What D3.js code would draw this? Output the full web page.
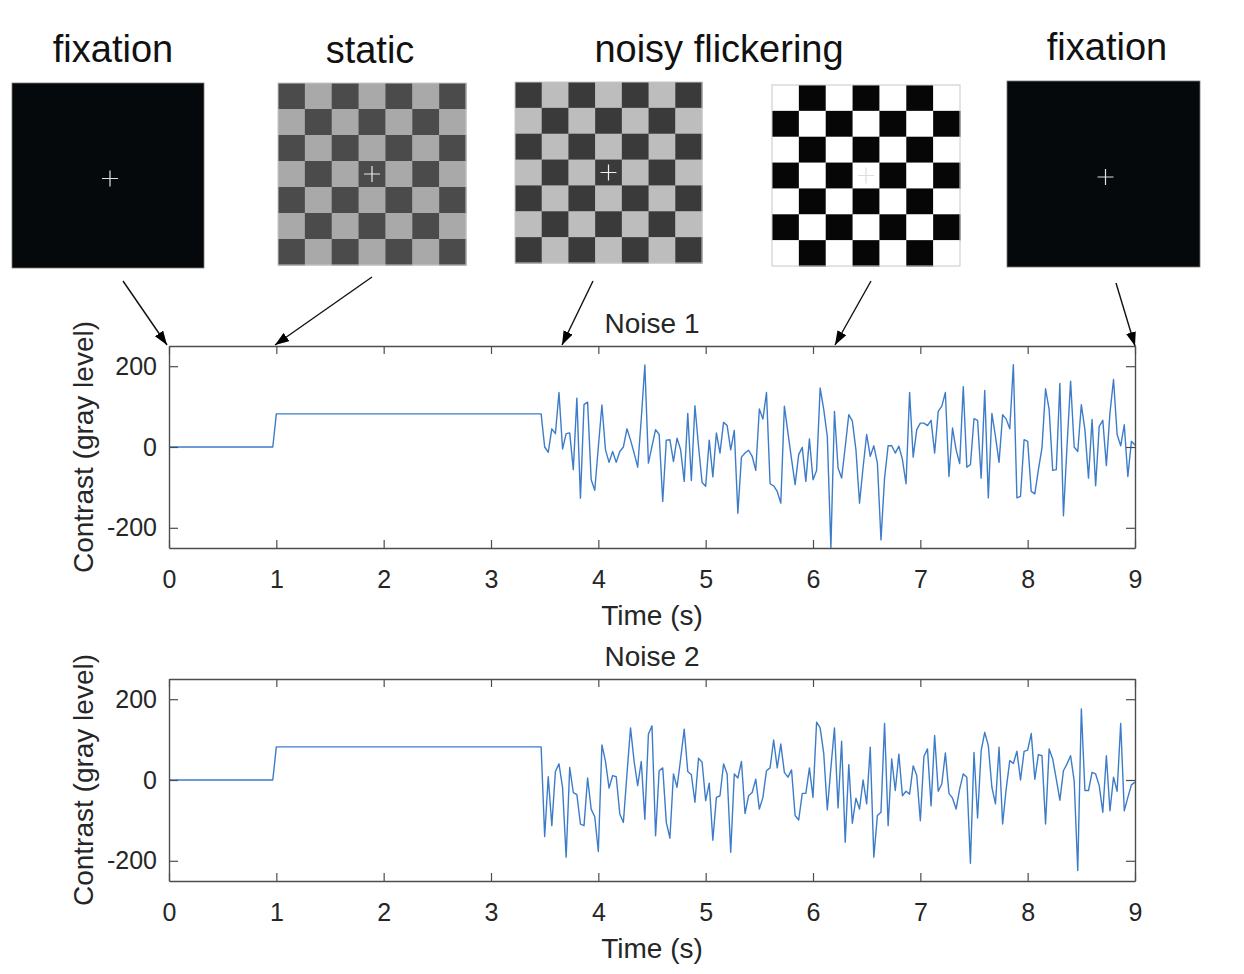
<!DOCTYPE html>
<html>
<head>
<meta charset="utf-8">
<script src="https://cdn.jsdelivr.net/npm/d3@7"></script>
<style>
  body { margin: 0; background: #fff; }
  svg { display: block; font-family: "Liberation Sans", Arial, sans-serif; }
</style>
</head>
<body>
<div id="chart"></div>
<script>
// ---- data ----
const sampleRate = 30;                  // frames per second
const noiseStart = 3.5;                 // s
const stepTimes  = [0, 0.967, 1, 3.467];
const stepLevels = [0, 0, 82, 82];      // fixation -> static level

const noise1 = [
  0, -13, 45, 33, 135, -5, 33, 35, -56, 121,
  -127, 105, 111, -81, -107, 0, 104, -7, -38, -11,
  -38, -11, 0, 45, 17, -15, -50, 70, 203, -40,
  2, 43, 31, -135, 17, 18, -36, 22, -7, -85,
  83, -83, 102, 2, -88, -97, 17, -74, 35, -15,
  61, 53, -7, 41, -164, -25, -15, -8, -23, -58,
  94, 69, 135, -91, -96, -110, -139, 101, 35, -30,
  -93, -19, -1, -85, 20, -81, -58, 146, 93, 26,
  -250, 88, -52, -77, 0, 80, 64, -7, -139, -50,
  31, -23, 3, -40, -230, -77, 3, 3, -15, 2,
  -31, -91, 135, -25, 43, 59, 59, 53, 66, -15,
  88, 101, 135, -73, 47, -7, -41, 149, -50, -44,
  70, 66, -77, 140, -126, 83, 26, -38, 80, 69,
  45, 204, -126, -122, 18, 14, -110, -116, -56, -2,
  144, 93, -58, -56, 157, -170, 2, 163, 0, -11,
  105, 43, -77, 68, -96, 51, 66, -46, 84, 167,
  31, 3, 55, -73, 14, 5
];

const noise2 = [
  -140, 8, -113, 21, 40, -18, -191, 31, -31, -36,
  -109, -113, 5, -72, -91, -177, 87, 46, -20, 11,
  8, -84, -105, 15, 129, 46, -14, 46, -97, 114,
  134, -138, 23, 30, -105, -144, 15, -18, 52, 126,
  21, 13, -55, 54, 44, -51, -8, -149, -43, -39,
  40, 15, -179, 15, 5, 46, -83, -39, -31, 2,
  -72, -43, 23, 30, 99, 30, 89, 19, 7, 25,
  -88, -99, -33, -33, 30, -43, 143, 129, 66, -74,
  30, 129, -69, 96, -154, 38, -107, -45, -72, 0,
  -59, 81, -191, -88, -80, 140, -113, 52, -26, 64,
  -39, -28, -35, 35, 11, -101, 58, 77, -64, 110,
  -28, -10, 67, -33, -45, -72, -22, 15, 7, -206,
  68, -94, 73, 118, 85, -18, -59, 81, -109, -22,
  48, 41, 71, 0, 71, 74, 115, 2, 63, 60,
  -109, 77, 52, 2, -50, 23, 40, 60, -2, -224,
  176, -26, -26, 19, 15, -14, -80, 60, -76, 7,
  -28, 140, -76, -43, -12, -5
];

const xTicks = [0, 1, 2, 3, 4, 5, 6, 7, 8, 9];
const yTicks = [-200, 0, 200];
const plotTitles = ["Noise 1", "Noise 2"];
const stimulusTitles = ["fixation", "static", "noisy flickering", "fixation"];

// ---- layout ----
const width = 1244, height = 974;
const plotLeft = 169, plotRight = 1135, plotH = 202;
const plotTops = [346, 679];

const svg = d3.select("#chart").append("svg")
  .attr("width", width).attr("height", height);

svg.append("defs").append("marker")
  .attr("id", "head")
  .attr("markerUnits", "userSpaceOnUse")
  .attr("viewBox", "0 0 14 10")
  .attr("refX", 14).attr("refY", 5)
  .attr("markerWidth", 14).attr("markerHeight", 10)
  .attr("orient", "auto")
  .append("path").attr("d", "M0,0L14,5L0,10Z").attr("fill", "#000");

// ---- stimulus pictures ----
const pictures = [
  { x: 12,   y: 83, w: 192, h: 185, type: "blank" },
  { x: 278,  y: 83, w: 188, h: 182, type: "check", dark: "#4b4b4b", light: "#a9a9a9", cross: "#e8e8e8", darkFirst: true },
  { x: 515,  y: 82, w: 187, h: 181, type: "check", dark: "#3a3a3a", light: "#bdbdbd", cross: "#f0f0f0", darkFirst: true },
  { x: 772,  y: 85, w: 188, h: 181, type: "check", dark: "#060606", light: "#ffffff", cross: "#dddddd", darkFirst: false },
  { x: 1007, y: 81, w: 193, h: 186, type: "blank" }
];

const cells = d3.range(7);
pictures.forEach(p => {
  const g = svg.append("g").attr("transform", `translate(${p.x},${p.y})`);
  if (p.type === "blank") {
    g.append("rect").attr("width", p.w).attr("height", p.h)
      .attr("fill", "#05090b").attr("stroke", "#777").attr("stroke-width", 0.8);
  } else {
    const cx = d3.scaleBand().domain(cells).range([0, p.w]);
    const cy = d3.scaleBand().domain(cells).range([0, p.h]);
    const grid = cells.flatMap(r => cells.map(c => ({ r, c })));
    g.selectAll("rect.cell").data(grid).join("rect")
      .attr("class", "cell")
      .attr("x", d => cx(d.c)).attr("y", d => cy(d.r))
      .attr("width", cx.bandwidth() + 0.5).attr("height", cy.bandwidth() + 0.5)
      .attr("fill", d => ((d.r + d.c) % 2 === 0) === p.darkFirst ? p.dark : p.light);
    g.append("rect").attr("width", p.w).attr("height", p.h)
      .attr("fill", "none").attr("stroke", "#c8c8c8").attr("stroke-width", 1);
  }
  const c = p.cross || "#e0e0e0";
  const mx = p.w / 2 + (p.type === "blank" ? 2 : 0), my = p.h / 2 + (p.type === "blank" ? 3 : 0);
  g.append("path")
    .attr("d", `M${mx - 8},${my}H${mx + 8}M${mx},${my - 8}V${my + 8}`)
    .attr("stroke", c).attr("stroke-width", 1.2);
});

const titlePos = [{ x: 113, y: 62 }, { x: 370, y: 63 }, { x: 719, y: 62 }, { x: 1107, y: 60 }];
svg.selectAll("text.stim").data(stimulusTitles).join("text")
  .attr("class", "stim")
  .attr("x", (d, i) => titlePos[i].x).attr("y", (d, i) => titlePos[i].y)
  .attr("text-anchor", "middle")
  .attr("font-size", 38).attr("fill", "#111")
  .text(d => d);

// arrows from pictures to the timeline
const arrows = [
  [123, 281, 167, 345],
  [372, 277, 275, 345],
  [593, 281, 562, 345],
  [871, 281, 835, 345],
  [1116, 283, 1135, 346]
];
svg.selectAll("line.arrow").data(arrows).join("line")
  .attr("class", "arrow")
  .attr("x1", d => d[0]).attr("y1", d => d[1])
  .attr("x2", d => d[2]).attr("y2", d => d[3])
  .attr("stroke", "#111").attr("stroke-width", 1.4)
  .attr("marker-end", "url(#head)");

// ---- time-course panels ----
const x = d3.scaleLinear().domain([0, 9]).range([plotLeft, plotRight]);
const axisColor = "#4d4d4d";
const textColor = "#262626";
const plain = d => String(d);   // keep ASCII hyphen like the original

[noise1, noise2].forEach((noise, i) => {
  const top = plotTops[i];
  const y = d3.scaleLinear().domain([-250, 250]).range([top + plotH, top]);

  const series = stepTimes.map((t, j) => ({ t, v: stepLevels[j] }))
    .concat(noise.map((v, k) => ({ t: noiseStart + k / sampleRate, v })));

  const clipId = "clip" + i;
  svg.append("clipPath").attr("id", clipId).append("rect")
    .attr("x", plotLeft).attr("y", top).attr("width", plotRight - plotLeft).attr("height", plotH);

  svg.append("path")
    .datum(series)
    .attr("clip-path", `url(#${clipId})`)
    .attr("fill", "none")
    .attr("stroke", "#3d7cc9")
    .attr("stroke-width", 1.4)
    .attr("stroke-linejoin", "round")
    .attr("d", d3.line().x(d => x(d.t)).y(d => y(d.v)));

  const styleAxis = g => {
    g.select(".domain").attr("stroke", axisColor).attr("stroke-width", 1.4);
    g.selectAll(".tick line").attr("stroke", axisColor).attr("stroke-width", 1.2);
    g.selectAll(".tick text").attr("fill", textColor).attr("font-size", 25)
      .attr("font-family", '"Liberation Sans", Arial, sans-serif');
    g.attr("font-family", null).attr("font-size", null);
  };

  svg.append("g").attr("transform", `translate(0,${top + plotH})`)
    .call(d3.axisBottom(x).tickValues(xTicks).tickFormat(plain)
      .tickSizeInner(-8).tickSizeOuter(0).tickPadding(22))
    .call(styleAxis);
  svg.append("g").attr("transform", `translate(0,${top})`)
    .call(d3.axisTop(x).tickValues(xTicks).tickFormat("").tickSizeInner(-8).tickSizeOuter(0))
    .call(styleAxis);
  svg.append("g").attr("transform", `translate(${plotLeft},0)`)
    .call(d3.axisLeft(y).tickValues(yTicks).tickFormat(plain)
      .tickSizeInner(-9).tickSizeOuter(0).tickPadding(12))
    .call(styleAxis);
  svg.append("g").attr("transform", `translate(${plotRight},0)`)
    .call(d3.axisRight(y).tickValues(yTicks).tickFormat("").tickSizeInner(-9).tickSizeOuter(0))
    .call(styleAxis);

  svg.append("text")
    .attr("x", (plotLeft + plotRight) / 2).attr("y", top - 13)
    .attr("text-anchor", "middle").attr("font-size", 28).attr("fill", textColor)
    .text(plotTitles[i]);

  svg.append("text")
    .attr("x", (plotLeft + plotRight) / 2).attr("y", top + plotH + 77)
    .attr("text-anchor", "middle").attr("font-size", 28).attr("fill", textColor)
    .text("Time (s)");

  svg.append("text")
    .attr("transform", `translate(93,${top + plotH / 2}) rotate(-90)`)
    .attr("text-anchor", "middle").attr("font-size", 28).attr("fill", textColor)
    .text("Contrast (gray level)");
});
</script>
</body>
</html>
